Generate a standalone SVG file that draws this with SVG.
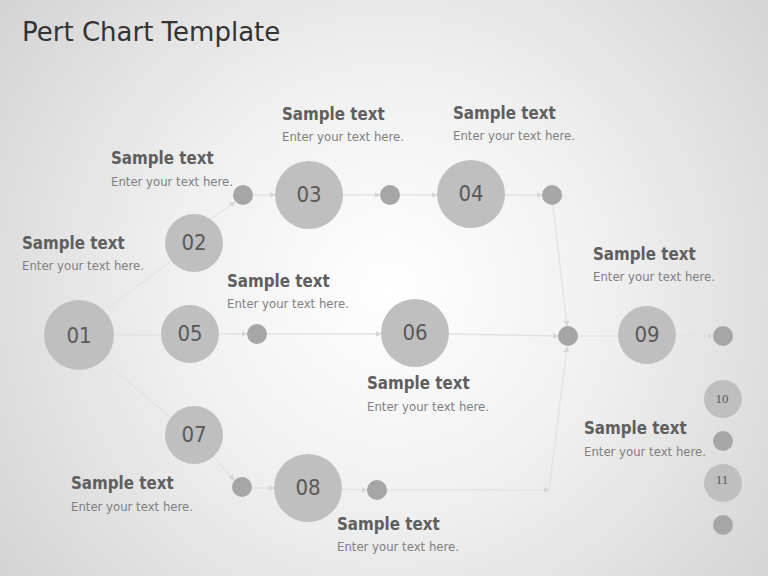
<svg xmlns="http://www.w3.org/2000/svg" width="768" height="576" viewBox="0 0 768 576">
<defs>
  <radialGradient id="bg" cx="390" cy="290" r="480" gradientUnits="userSpaceOnUse">
    <stop offset="0" stop-color="#ffffff"/>
    <stop offset="0.45" stop-color="#f0f0f0"/>
    <stop offset="1" stop-color="#d4d4d4"/>
  </radialGradient>
  <marker id="arr" viewBox="0 0 10 10" refX="9" refY="5" markerWidth="6" markerHeight="6" orient="auto" markerUnits="userSpaceOnUse">
    <path d="M0,0 L10,5 L0,10 z" fill="#d6d6d6"/>
  </marker>
  <style>
    .big{fill:#bfbfbf}
    .dot{fill:#a6a6a6}
    .num{font-family:"DejaVu Sans Condensed","DejaVu Sans",sans-serif;font-stretch:condensed;font-size:22px;fill:#595959;text-anchor:middle}
    .sm{font-family:"Liberation Serif",serif;font-size:13px;fill:#595959;text-anchor:middle}
    .h{font-family:"DejaVu Sans Condensed","DejaVu Sans",sans-serif;font-stretch:condensed;font-weight:bold;font-size:16.8px;fill:#5f5f5f}
    .b{font-family:"DejaVu Sans Condensed","DejaVu Sans",sans-serif;font-stretch:condensed;font-size:13px;fill:#808080}
    .ln{stroke:#e3e3e3;stroke-width:1.5;fill:none}
    .la{stroke:#e3e3e3;stroke-width:1.5;fill:none;marker-end:url(#arr)}
  </style>
</defs>
<rect width="768" height="576" fill="url(#bg)"/>
<text x="22" y="41" font-family="DejaVu Sans, sans-serif" font-size="26" fill="#333333">Pert Chart Template</text>

<g id="connectors">
  <line class="ln" x1="108" y1="308" x2="170" y2="262"/>
  <line class="ln" x1="115" y1="335" x2="161" y2="335"/>
  <line class="ln" x1="105" y1="362" x2="170" y2="417"/>
  <line class="la" x1="212" y1="218" x2="235" y2="202"/>
  <line class="la" x1="253" y1="195" x2="275" y2="195"/>
  <line class="la" x1="343" y1="195" x2="380" y2="195"/>
  <line class="la" x1="400" y1="195" x2="437" y2="195"/>
  <line class="la" x1="505" y1="195" x2="542" y2="195"/>
  <line class="la" x1="553" y1="205" x2="567" y2="326"/>
  <line class="la" x1="219" y1="334" x2="247" y2="334"/>
  <line class="la" x1="267" y1="334" x2="381" y2="334"/>
  <line class="la" x1="449" y1="334" x2="558" y2="336"/>
  <line class="ln" x1="578" y1="336" x2="618" y2="336"/>
  <line class="la" x1="676" y1="335" x2="713" y2="336"/>
  <line class="ln" x1="723" y1="346" x2="723" y2="379"/>
  <line class="la" x1="213" y1="456" x2="234" y2="480"/>
  <line class="la" x1="252" y1="488" x2="274" y2="488"/>
  <line class="la" x1="342" y1="489" x2="367" y2="490"/>
  <line class="la" x1="387" y1="490" x2="549" y2="490"/>
  <line class="la" x1="549" y1="490" x2="567" y2="347"/>
</g>

<g id="n01"><circle class="big" cx="79" cy="335" r="35"/><text class="num" x="79" y="343">01</text></g>
<g id="n02"><circle class="big" cx="194" cy="243" r="29"/><text class="num" x="194" y="250" font-size="19">02</text></g>
<g id="n05"><circle class="big" cx="190" cy="334" r="29"/><text class="num" x="190" y="341" font-size="19">05</text></g>
<g id="n07"><circle class="big" cx="194" cy="435" r="29"/><text class="num" x="194" y="442" font-size="19">07</text></g>
<g id="d1"><circle class="dot" cx="243" cy="195" r="10"/></g>
<g id="n03"><circle class="big" cx="309" cy="195" r="34"/><text class="num" x="309" y="202" font-size="20">03</text></g>
<g id="d2"><circle class="dot" cx="390" cy="195" r="10"/></g>
<g id="n04"><circle class="big" cx="471" cy="194" r="34"/><text class="num" x="471" y="201" font-size="20">04</text></g>
<g id="d3"><circle class="dot" cx="552" cy="195" r="10"/></g>
<g id="d4"><circle class="dot" cx="257" cy="334" r="10"/></g>
<g id="n06"><circle class="big" cx="415" cy="333" r="34"/><text class="num" x="415" y="340" font-size="20">06</text></g>
<g id="d5"><circle class="dot" cx="568" cy="336" r="10"/></g>
<g id="n09"><circle class="big" cx="647" cy="335" r="29"/><text class="num" x="647" y="342" font-size="20">09</text></g>
<g id="d6"><circle class="dot" cx="723" cy="336" r="10"/></g>
<g id="n10"><circle class="big" cx="723" cy="399" r="19"/><text class="sm" x="722" y="403">10</text></g>
<g id="d7"><circle class="dot" cx="723" cy="441" r="10"/></g>
<g id="n11"><circle class="big" cx="723" cy="483" r="19"/><text class="sm" x="722" y="484">11</text></g>
<g id="d8"><circle class="dot" cx="723" cy="525" r="10"/></g>
<g id="d9"><circle class="dot" cx="242" cy="487" r="10"/></g>
<g id="n08"><circle class="big" cx="308" cy="488" r="34"/><text class="num" x="308" y="495" font-size="20">08</text></g>
<g id="d10"><circle class="dot" cx="377" cy="490" r="10"/></g>

<g id="labels">
  <text class="h" x="111" y="164">Sample text</text><text class="b" x="111" y="186">Enter your text here.</text>
  <text class="h" x="282" y="120">Sample text</text><text class="b" x="282" y="141">Enter your text here.</text>
  <text class="h" x="453" y="119">Sample text</text><text class="b" x="453" y="140">Enter your text here.</text>
  <text class="h" x="22" y="249">Sample text</text><text class="b" x="22" y="270">Enter your text here.</text>
  <text class="h" x="227" y="287">Sample text</text><text class="b" x="227" y="308">Enter your text here.</text>
  <text class="h" x="593" y="260">Sample text</text><text class="b" x="593" y="281">Enter your text here.</text>
  <text class="h" x="367" y="389">Sample text</text><text class="b" x="367" y="411">Enter your text here.</text>
  <text class="h" x="584" y="434">Sample text</text><text class="b" x="584" y="456">Enter your text here.</text>
  <text class="h" x="71" y="489">Sample text</text><text class="b" x="71" y="511">Enter your text here.</text>
  <text class="h" x="337" y="530">Sample text</text><text class="b" x="337" y="551">Enter your text here.</text>
</g>
</svg>
